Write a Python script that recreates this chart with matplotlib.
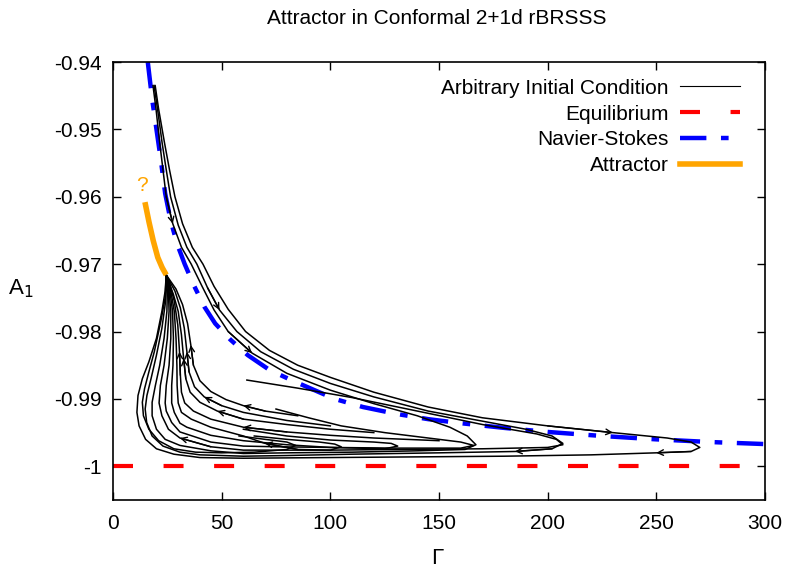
import matplotlib
matplotlib.use("Agg")
import matplotlib.pyplot as plt
from matplotlib.lines import Line2D

plt.rcParams['font.family'] = ['Liberation Sans', 'DejaVu Sans']
plt.rcParams['lines.scale_dashes'] = False

# ---------------- data ----------------
title = "Attractor in Conformal 2+1d rBRSSS"
x_ticks = [0, 50, 100, 150, 200, 250, 300]
y_ticks = [-1.0, -0.99, -0.98, -0.97, -0.96, -0.95, -0.94]
y_tick_labels = ['-1', '-0.99', '-0.98', '-0.97', '-0.96', '-0.95', '-0.94']

equilibrium_gamma = [0, 300]
equilibrium_a1 = [-1.0, -1.0]

ns_gamma = [16, 18, 20, 22, 24, 26.5, 29.5, 33, 37, 42, 47, 54, 62, 72, 82, 92,
            102, 115, 130, 145, 160, 180, 200, 225, 250, 275, 300]
ns_a1 = [-0.940, -0.9455, -0.950, -0.9545, -0.9595, -0.9635, -0.967, -0.970,
         -0.973, -0.9763, -0.9788, -0.9812, -0.9835, -0.9857, -0.9872, -0.9886,
         -0.990, -0.9912, -0.9922, -0.993, -0.9936, -0.9943, -0.9949, -0.9955,
         -0.996, -0.9964, -0.9967]

attractor_gamma = [14.7, 16.6, 18.5, 20.6, 22.6, 24.5]
attractor_a1 = [-0.9608, -0.9638, -0.9665, -0.969, -0.9705, -0.9716]

t1_gamma = [19.4, 21, 23.7, 26, 28.5, 32, 36.5, 41.4, 46.5, 53, 61, 72, 85, 100, 120,
            145, 170, 200, 230, 255, 266, 270, 266, 250, 220, 180, 140, 100, 60,
            40, 28, 20, 15, 12, 11, 11.5, 13.5, 16.5, 20, 22.5, 24, 24.5]
t1_a1 = [-0.9435, -0.947, -0.952, -0.956, -0.960, -0.964, -0.9675, -0.970, -0.9733,
         -0.9767, -0.980, -0.9828, -0.985, -0.9868, -0.989, -0.9912, -0.9928,
         -0.994, -0.995, -0.9958, -0.9964, -0.9972, -0.9978, -0.998, -0.9983,
         -0.9985, -0.9986, -0.9987, -0.9988, -0.9987, -0.9982, -0.9974, -0.996,
         -0.994, -0.992, -0.9895, -0.987, -0.9845, -0.981, -0.977, -0.974, -0.9716]

t2_gamma = [18.9, 20.5, 22.6, 24.5, 26.5, 30, 34, 38.6, 43.5, 49, 57, 68, 83, 100,
            120, 145, 170, 190, 202, 207, 202, 185, 150, 110, 80, 60, 40, 30.8, 23,
            18, 15.5, 14.8, 15.6, 17.5, 20, 22.5, 24, 24.6, 24.5]
t2_a1 = [-0.9435, -0.947, -0.952, -0.956, -0.960, -0.9642, -0.9675, -0.970, -0.9735,
         -0.9768, -0.980, -0.983, -0.9856, -0.9877, -0.9897, -0.9918, -0.9933,
         -0.9945, -0.9955, -0.9966, -0.9974, -0.9978, -0.998, -0.9982, -0.9984,
         -0.9985, -0.9983, -0.9979, -0.997, -0.9955, -0.9935, -0.9915, -0.9895,
         -0.987, -0.9835, -0.9795, -0.976, -0.9735, -0.9716]

t3_gamma = [18.4, 19.8, 21.5, 23, 24.5, 27.5, 31.5, 36, 41, 46.5, 53, 64, 80, 100, 120,
            140, 155, 163, 167, 162, 140, 110, 80, 60, 45, 30.8, 24, 20, 18, 18,
            19.5, 21.5, 23.5, 24.8, 25, 24.5]
t3_a1 = [-0.9435, -0.947, -0.952, -0.956, -0.960, -0.964, -0.9675, -0.970, -0.9733,
         -0.9768, -0.980, -0.9832, -0.9862, -0.9887, -0.9907, -0.9925, -0.9942,
         -0.9955, -0.9968, -0.9975, -0.9977, -0.9979, -0.998, -0.9981, -0.9977,
         -0.9969, -0.996, -0.9945, -0.9925, -0.9905, -0.988, -0.985, -0.981,
         -0.977, -0.974, -0.9716]

t4_gamma = [61.6, 85, 110, 140, 170, 195, 204, 207, 200, 170, 130, 100, 80, 60, 45,
            30.8, 25.5, 22.5, 21.2, 21.8, 23.5, 25, 25.8, 25.5, 24.5]
t4_a1 = [-0.9872, -0.9884, -0.9898, -0.9918, -0.9938, -0.9952, -0.996, -0.9968,
         -0.9972, -0.9974, -0.9975, -0.9976, -0.9976, -0.9976, -0.9971, -0.9958,
         -0.9945, -0.9925, -0.9906, -0.988, -0.985, -0.981, -0.977, -0.974, -0.9716]

t5_gamma = [75, 90, 105, 125, 145, 160, 166, 160, 130, 100, 75, 60, 45, 30.8, 27,
            24.5, 24, 24.5, 25.8, 26.6, 26.6, 25.8, 24.5]
t5_a1 = [-0.9915, -0.9928, -0.994, -0.995, -0.9958, -0.9964, -0.9969, -0.9973,
         -0.9973, -0.9972, -0.9971, -0.997, -0.9964, -0.9949, -0.9935, -0.9918,
         -0.9906, -0.988, -0.985, -0.981, -0.977, -0.974, -0.9716]

t6_gamma = [60, 80, 100, 120, 128, 131, 125, 100, 80, 60, 45, 34, 30.8, 28.2, 27, 27,
            27.6, 27.8, 27.4, 26.2, 24.5]
t6_a1 = [-0.9945, -0.9955, -0.9961, -0.9964, -0.9966, -0.997, -0.9974, -0.9972,
         -0.9968, -0.9962, -0.9954, -0.9942, -0.9936, -0.992, -0.9906, -0.988,
         -0.985, -0.981, -0.977, -0.974, -0.9716]

t7_gamma = [65, 80, 95, 102, 105, 100, 85, 70, 60, 45, 36, 31.5, 30, 29.5, 29.4, 29,
            28.2, 26.6, 24.5]
t7_a1 = [-0.9955, -0.996, -0.9964, -0.9967, -0.9971, -0.9976, -0.9975, -0.9966,
         -0.9955, -0.9942, -0.993, -0.992, -0.9906, -0.988, -0.985, -0.981, -0.977,
         -0.974, -0.9716]

t8_gamma = [150, 120, 100, 80, 60, 45, 37, 33, 31.5, 31, 30.6, 29.8, 28.2, 26.2, 24.5]
t8_a1 = [-0.9962, -0.9958, -0.9954, -0.9949, -0.9942, -0.993, -0.9918, -0.9906,
         -0.989, -0.9865, -0.983, -0.979, -0.9755, -0.973, -0.9716]

t9_gamma = [120, 100, 80, 60, 48, 40, 35.5, 33.5, 32.5, 31.5, 30, 27.8, 24.5]
t9_a1 = [-0.995, -0.9945, -0.9938, -0.993, -0.9918, -0.9905, -0.989, -0.987, -0.984,
         -0.9805, -0.977, -0.9745, -0.9716]

t10_gamma = [100, 80, 60, 50, 42, 37.5, 35, 34, 32.8, 31, 28.5, 24.5]
t10_a1 = [-0.994, -0.9932, -0.992, -0.991, -0.9897, -0.9882, -0.986, -0.983, -0.9795,
          -0.9765, -0.974, -0.9716]

t11_gamma = [85, 70, 60, 52, 45, 40, 37, 35.8, 34.3, 32, 29, 24.5]
t11_a1 = [-0.9925, -0.9918, -0.991, -0.9901, -0.9889, -0.9873, -0.985, -0.982,
          -0.9788, -0.976, -0.9737, -0.9716]

t12_gamma = [58, 70, 80, 84, 80, 65, 50, 38, 28, 21, 16.5, 14, 13.5, 14.5, 16.5, 19,
             22, 24, 24.5]
t12_a1 = [-0.9955, -0.996, -0.9964, -0.9969, -0.9975, -0.9979, -0.998, -0.9979,
          -0.9974, -0.9962, -0.9945, -0.9925, -0.9905, -0.9885, -0.986, -0.983,
          -0.9785, -0.975, -0.9716]

trajectories = [(t1_gamma, t1_a1), (t2_gamma, t2_a1), (t3_gamma, t3_a1),
                (t4_gamma, t4_a1), (t5_gamma, t5_a1), (t6_gamma, t6_a1),
                (t7_gamma, t7_a1), (t8_gamma, t8_a1), (t9_gamma, t9_a1),
                (t10_gamma, t10_a1), (t11_gamma, t11_a1), (t12_gamma, t12_a1)]

# (trajectory number, segment start index) where an arrow head is drawn
arrow_segments = [(0, 17), (0, 22), (1, 8), (1, 20), (2, 4), (2, 10),
                  (7, 3), (7, 9), (8, 3), (8, 7), (9, 3), (9, 6), (10, 1),
                  (10, 6), (6, 6), (3, 14)]

# ---------------- figure ----------------
W, H = 785, 572
fig = plt.figure(figsize=(W / 100, H / 100), dpi=100)
ax = fig.add_axes([113 / W, 1 - 500 / H, 652 / W, 438 / H])

for g, a in trajectories:
    ax.plot(g, a, color='black', lw=1.1, solid_joinstyle='round', zorder=3)

for ti, i in arrow_segments:
    g, a = trajectories[ti]
    ax.annotate('', xy=(g[i + 1], a[i + 1]), xytext=(g[i], a[i]),
                arrowprops=dict(arrowstyle='->', color='black', lw=1.0,
                                mutation_scale=10, shrinkA=0, shrinkB=0),
                zorder=4)

ax.plot(equilibrium_gamma, equilibrium_a1, color='#ff0000', lw=3.0,
        dashes=(14.4, 22.0), zorder=2)
ax.plot(ns_gamma, ns_a1, color='#0000ff', lw=3.2,
        dashes=(19.0, 10.5, 5.5, 10.5), zorder=2)
ax.plot(attractor_gamma, attractor_a1, color='#ffa500', lw=4.0,
        solid_capstyle='butt', zorder=5)
ax.text(attractor_gamma[0] - 1.5, attractor_a1[0] + 0.0011, '?', color='#ffa500',
        fontsize=15, ha='center', va='bottom')

ax.set_xlim(0, 300)
ax.set_ylim(-1.005, -0.94)
ax.set_xticks(x_ticks)
ax.set_xticklabels([str(v) for v in x_ticks])
ax.set_yticks(y_ticks)
ax.set_yticklabels(y_tick_labels)
ax.tick_params(axis='x', pad=10)
ax.tick_params(axis='y', pad=8)
ax.tick_params(direction='in', length=6, width=1.0, top=True, right=True,
               labelsize=15)
for s in ax.spines.values():
    s.set_linewidth(1.2)

fig.text(437 / W, 1 - 19 / H, title, fontsize=15, ha='center', va='center')
fig.text(437 / W, 1 - 558 / H, 'Γ', fontsize=16, ha='center', va='center')
fig.text(21 / W, 1 - 289 / H, 'A$_1$', fontsize=16, ha='center', va='center')

handles = [Line2D([], [], color='black', lw=0.8),
           Line2D([], [], color='#ff0000', lw=3.0, dashes=(14.4, 22.0)),
           Line2D([], [], color='#0000ff', lw=3.2, dashes=(19.0, 10.5, 5.5, 10.5)),
           Line2D([], [], color='#ffa500', lw=4.0)]
labels = ['Arbitrary Initial Condition', 'Equilibrium', 'Navier-Stokes', 'Attractor']
ax.legend(handles, labels, loc='upper right', frameon=False, markerfirst=False,
          fontsize=15, handlelength=2.9, labelspacing=0.33, handletextpad=0.55,
          borderpad=0, borderaxespad=0, bbox_to_anchor=(0.962, 0.962))

fig.savefig('out.png', dpi=100)
